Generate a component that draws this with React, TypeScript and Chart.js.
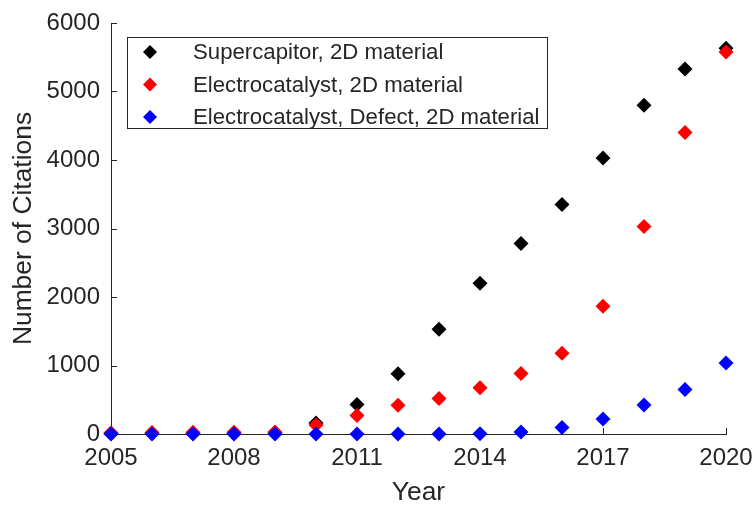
import { useEffect, useRef } from "react";
import { Chart, registerables } from "chart.js";

Chart.register(...registerables);

// Citation counts per year
const years = [2005, 2006, 2007, 2008, 2009, 2010, 2011, 2012, 2013, 2014, 2015, 2016, 2017, 2018, 2019, 2020];
const supercapacitor2D = [8, 10, 12, 15, 20, 160, 430, 880, 1530, 2200, 2780, 3350, 4030, 4800, 5330, 5630];
const electrocatalyst2D = [20, 22, 25, 25, 30, 130, 270, 420, 520, 675, 885, 1180, 1865, 3030, 4400, 5575];
const electrocatalystDefect2D = [0, 0, 0, 0, 0, 0, 0, 0, 0, 5, 30, 95, 220, 425, 650, 1035];

const seriesLabels = [
  "Supercapitor, 2D material",
  "Electrocatalyst, 2D material",
  "Electrocatalyst, Defect, 2D material",
];
const seriesColors = ["#000000", "#ff0000", "#0000ff"];

const xTickValues = [2005, 2008, 2011, 2014, 2017, 2020];
const yTickValues = [0, 1000, 2000, 3000, 4000, 5000, 6000];

const FONT = "'Liberation Sans', Arial, Helvetica, sans-serif";
const INK = "#262626";

// Short tick marks pointing into the plot area
const innerTicks = {
  id: "innerTicks",
  beforeDatasetsDraw(chart: any) {
    const { ctx, chartArea, scales } = chart;
    const len = 6;
    ctx.save();
    ctx.strokeStyle = INK;
    ctx.lineWidth = 1;
    ctx.beginPath();
    for (const t of scales.x.ticks) {
      const px = Math.round(scales.x.getPixelForValue(t.value)) + 0.5;
      ctx.moveTo(px, chartArea.bottom);
      ctx.lineTo(px, chartArea.bottom - len);
    }
    for (const t of scales.y.ticks) {
      const py = Math.round(scales.y.getPixelForValue(t.value)) + 0.5;
      ctx.moveTo(chartArea.left, py);
      ctx.lineTo(chartArea.left + len, py);
    }
    ctx.stroke();
    ctx.restore();
  },
};

function diamond(ctx: CanvasRenderingContext2D, x: number, y: number, r: number, color: string) {
  ctx.beginPath();
  ctx.moveTo(x - r, y);
  ctx.lineTo(x, y - r);
  ctx.lineTo(x + r, y);
  ctx.lineTo(x, y + r);
  ctx.closePath();
  ctx.fillStyle = color;
  ctx.fill();
}

// Boxed legend in the upper-left corner of the plot area
const boxedLegend = {
  id: "boxedLegend",
  afterDraw(chart: any) {
    const { ctx, chartArea } = chart;
    const left = chartArea.left + 16;
    const top = chartArea.top + 14;
    const rowH = 32.5;
    const fontSize = 22.2;
    ctx.save();
    ctx.font = `${fontSize}px ${FONT}`;
    const datasets = chart.data.datasets;
    let maxW = 0;
    for (const ds of datasets) maxW = Math.max(maxW, ctx.measureText(ds.label).width);
    const textX = left + 66;
    const width = textX - left + maxW + 8;
    const height = rowH * (datasets.length - 1) + 26;
    ctx.fillStyle = "#ffffff";
    ctx.fillRect(left, top, width, height);
    ctx.strokeStyle = INK;
    ctx.lineWidth = 1;
    ctx.strokeRect(Math.round(left) + 0.5, Math.round(top) + 0.5, Math.round(width), Math.round(height));
    datasets.forEach((ds: any, i: number) => {
      const cy = top + 15 + i * rowH;
      diamond(ctx, left + 23, cy, 7, ds.backgroundColor);
      ctx.fillStyle = INK;
      ctx.textBaseline = "middle";
      ctx.textAlign = "left";
      ctx.fillText(ds.label, textX, cy + 1);
    });
    ctx.restore();
  },
};

export default function App() {
  const canvasRef = useRef<HTMLCanvasElement | null>(null);

  useEffect(() => {
    if (!canvasRef.current) return;
    const seriesValues = [supercapacitor2D, electrocatalyst2D, electrocatalystDefect2D];
    const chart = new Chart(canvasRef.current, {
      type: "scatter",
      data: {
        datasets: seriesValues.map((vals, i) => ({
          label: seriesLabels[i],
          data: years.map((yr, j) => ({ x: yr, y: vals[j] })),
          backgroundColor: seriesColors[i],
          borderColor: seriesColors[i],
          pointStyle: "rectRot",
          pointRadius: 7.5,
          pointBorderWidth: 0,
          pointHoverRadius: 7.5,
          clip: false as any,
          order: seriesValues.length - i,
        })),
      },
      options: {
        animation: false,
        responsive: false,
        events: [],
        layout: { autoPadding: false, padding: { top: 23, right: 29, left: 0, bottom: 0 } },
        plugins: { legend: { display: false }, tooltip: { enabled: false } },
        scales: {
          x: {
            type: "linear",
            min: 2005,
            max: 2020,
            afterBuildTicks: (s: any) => {
              s.ticks = xTickValues.map((v) => ({ value: v }));
            },
            afterFit: (s: any) => {
              s.height = 72;
              s.paddingLeft = 0;
              s.paddingRight = 0;
            },
            grid: { display: false, drawTicks: false },
            border: { display: true, color: INK, width: 1 },
            ticks: {
              padding: 10,
              color: INK,
              font: { family: FONT, size: 24 },
              maxRotation: 0,
              autoSkip: false,
              callback: (v: any) => String(v),
            },
            title: {
              display: true,
              text: "Year",
              color: INK,
              font: { family: FONT, size: 26.4, lineHeight: 1 },
              padding: { top: 0, bottom: 0 },
            },
          },
          y: {
            type: "linear",
            min: 0,
            max: 6000,
            afterBuildTicks: (s: any) => {
              s.ticks = yTickValues.map((v) => ({ value: v }));
            },
            afterFit: (s: any) => {
              s.width = 111;
              s.paddingTop = 0;
              s.paddingBottom = 0;
            },
            grid: { display: false, drawTicks: false },
            border: { display: true, color: INK, width: 1 },
            ticks: {
              padding: 11,
              color: INK,
              font: { family: FONT, size: 24 },
              autoSkip: false,
              callback: (v: any) => String(v),
            },
            title: {
              display: true,
              text: "Number of Citations",
              color: INK,
              font: { family: FONT, size: 26.4 },
              padding: { top: 8, bottom: 0 },
            },
          },
        },
      },
      plugins: [innerTicks, boxedLegend],
    });
    return () => chart.destroy();
  }, []);

  return (
    <div style={{ position: "fixed", left: 0, top: 0, width: 755, height: 506, background: "#ffffff" }}>
      <canvas ref={canvasRef} width={755} height={506} style={{ display: "block" }} />
    </div>
  );
}
